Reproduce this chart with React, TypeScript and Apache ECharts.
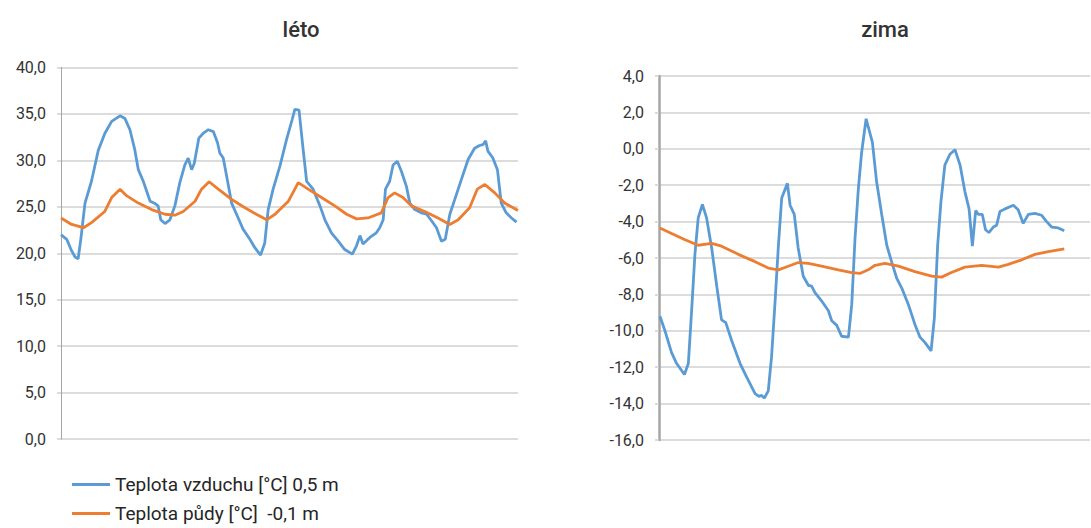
import React, { useEffect, useRef } from "react";
import * as echarts from "echarts";

// léto (summer) – hours and temperatures
const summerAirHours = [0, 1.5, 2.8, 3.7, 4.5, 5.2, 6.3, 8.0, 9.8, 11.5, 13.3, 15.5, 16.8, 18.1, 19.4, 20.3, 21.6, 23.4, 24.7, 25.5, 26.2, 27.3, 28.6, 29.9, 31.2, 32.5, 33.4, 34.3, 35.0, 36.2, 37.3, 38.7, 40.0, 41.1, 41.7, 42.6, 43.5, 44.8, 46.1, 47.8, 49.6, 50.9, 52.4, 53.5, 54.4, 55.7, 57.5, 59.2, 60.7, 61.4, 62.5, 63.6, 64.5, 66.2, 68.0, 69.3, 71.0, 72.8, 74.5, 76.5, 77.6, 78.5, 79.3, 81.1, 82.8, 83.7, 84.6, 85.2, 86.3, 87.2, 88.3, 89.4, 90.7, 91.6, 92.9, 94.6, 96.0, 97.3, 98.6, 99.9, 100.9, 102.1, 103.4, 105.1, 106.9, 108.6, 109.9, 110.8, 111.5, 112.1, 113.4, 114.6, 115.6, 116.9, 118.3, 119.6];
const summerAir = [22.0, 21.5, 20.25, 19.6, 19.4, 21.5, 25.4, 27.75, 31.1, 32.9, 34.2, 34.8, 34.5, 33.3, 31.1, 29.0, 27.75, 25.6, 25.35, 25.1, 23.6, 23.2, 23.6, 25.1, 27.6, 29.5, 30.25, 29.0, 29.7, 32.4, 32.9, 33.3, 33.1, 31.9, 30.8, 30.25, 28.3, 25.4, 24.2, 22.6, 21.5, 20.6, 19.8, 21.1, 24.7, 26.9, 29.4, 32.2, 34.4, 35.5, 35.4, 31.1, 27.75, 26.9, 25.1, 23.6, 22.2, 21.3, 20.4, 19.9, 20.8, 21.9, 21.0, 21.7, 22.2, 22.75, 23.6, 26.9, 27.75, 29.5, 29.9, 28.8, 27.2, 25.4, 24.7, 24.35, 24.2, 23.5, 22.75, 21.3, 21.5, 24.2, 25.8, 27.9, 30.1, 31.3, 31.6, 31.7, 32.1, 31.0, 30.25, 29.0, 25.4, 24.35, 23.8, 23.35];
const summerSoilHours = [0, 2.8, 5.9, 8.0, 11.5, 13.3, 15.5, 17.2, 20.3, 23.8, 27.3, 29.9, 32.1, 35.2, 36.9, 38.9, 41.3, 44.8, 48.3, 51.3, 54.0, 56.2, 59.7, 62.3, 64.9, 68.4, 71.9, 75.0, 77.6, 80.6, 84.1, 85.9, 87.6, 89.8, 92.0, 95.5, 99.0, 102.1, 104.3, 107.3, 109.3, 111.3, 113.9, 116.5, 120];
const summerSoil = [23.8, 23.1, 22.75, 23.3, 24.5, 26.0, 26.9, 26.2, 25.4, 24.7, 24.2, 24.1, 24.5, 25.6, 26.9, 27.7, 26.9, 25.8, 24.9, 24.2, 23.6, 24.2, 25.6, 27.6, 26.9, 26.0, 25.1, 24.2, 23.7, 23.8, 24.35, 26.0, 26.5, 26.0, 25.1, 24.5, 23.8, 23.1, 23.6, 24.9, 26.9, 27.4, 26.5, 25.4, 24.6];

// zima (winter)
const winterAirHours = [0.3, 2.0, 4.2, 5.9, 8.5, 9.8, 10.9, 12.0, 13.1, 14.5, 15.9, 17.6, 19.3, 20.9, 22.3, 24.3, 27.1, 29.3, 32.1, 33.4, 34.3, 35.2, 36.5, 37.6, 38.8, 39.9, 41.0, 42.9, 43.8, 45.2, 46.5, 48.2, 49.9, 51.0, 52.1, 54.3, 56.6, 57.7, 59.4, 61.0, 63.3, 64.4, 65.5, 66.6, 67.7, 69.2, 71.3, 72.7, 74.4, 76.1, 77.7, 79.4, 81.1, 83.3, 85.5, 87.2, 88.9, 90.9, 92.0, 93.1, 94.2, 95.5, 97.2, 98.9, 100.6, 102.2, 103.6, 104.7, 105.8, 106.7, 108.0, 109.1, 110.2, 111.7, 112.8, 113.9, 115.6, 118.4, 120.0, 121.7, 123.4, 125.6, 127.8, 129.5, 131.2, 133.4, 135.4];
const winterAir = [-9.2, -10.0, -11.2, -11.8, -12.4, -11.8, -8.9, -5.8, -3.8, -3.05, -3.8, -5.45, -7.55, -9.4, -9.55, -10.55, -11.8, -12.55, -13.45, -13.6, -13.55, -13.7, -13.3, -11.45, -8.35, -5.3, -2.7, -1.9, -3.1, -3.6, -5.45, -7.0, -7.5, -7.55, -7.9, -8.35, -8.9, -9.45, -9.7, -10.3, -10.35, -8.55, -4.9, -2.2, -0.2, 1.65, 0.35, -1.8, -3.6, -5.3, -6.2, -7.1, -7.65, -8.55, -9.65, -10.35, -10.65, -11.1, -9.3, -5.3, -2.9, -0.9, -0.3, -0.05, -0.9, -2.35, -3.3, -5.35, -3.4, -3.6, -3.6, -4.45, -4.6, -4.3, -4.2, -3.45, -3.3, -3.1, -3.35, -4.1, -3.6, -3.55, -3.65, -4.0, -4.3, -4.35, -4.5];
const winterSoilHours = [0.3, 4.2, 8.7, 13.1, 17.6, 20.9, 26.5, 32.1, 36.5, 39.9, 43.2, 46.5, 49.9, 54.3, 59.9, 64.4, 67.1, 69.9, 72.2, 75.5, 80.0, 85.5, 91.1, 94.4, 97.7, 102.2, 107.8, 113.4, 116.7, 121.2, 125.6, 130.1, 135.4];
const winterSoil = [-4.35, -4.65, -5.0, -5.3, -5.2, -5.35, -5.8, -6.2, -6.55, -6.65, -6.45, -6.25, -6.3, -6.45, -6.65, -6.8, -6.85, -6.65, -6.4, -6.3, -6.45, -6.75, -7.0, -7.05, -6.8, -6.5, -6.4, -6.5, -6.35, -6.1, -5.8, -5.65, -5.5];

const titles = ["léto", "zima"];
const seriesNames = ["Teplota vzduchu [°C] 0,5 m", "Teplota půdy [°C]  -0,1 m"];
const summerTicks = { min: 0, max: 40, interval: 5 };
const winterTicks = { min: -16, max: 4, interval: 2 };

const zip = (xs: number[], ys: number[]) => xs.map((x, i) => [x, ys[i]]);

const BLUE = "#5b9bd5";
const ORANGE = "#ed7d31";
const FONT = "Roboto, 'Noto Sans', sans-serif";

export default function App() {
  const ref = useRef<HTMLDivElement>(null);
  useEffect(() => {
    if (!ref.current) return;
    const chart = echarts.init(ref.current, undefined, { renderer: "svg" });
    const fmt = (v: number) => v.toFixed(1).replace(".", ",");
    const yCommon = (t: { min: number; max: number; interval: number }, axisW: number) => ({
      type: "value",
      min: t.min,
      max: t.max,
      interval: t.interval,
      axisLine: { show: true, lineStyle: { color: "#a6a6a6", width: axisW } },
      axisTick: { show: true, length: 4, lineStyle: { color: "#d0d0d0", width: 1.5 } },
      splitLine: { show: true, lineStyle: { color: "#d0d0d0", width: 1.5 } },
      axisLabel: { formatter: fmt, color: "#333333", fontSize: 16, fontFamily: FONT, margin: 15 },
    });
    const lineSeries = (name: string, color: string, data: number[][], idx: number) => ({
      name,
      type: "line",
      xAxisIndex: idx,
      yAxisIndex: idx,
      data,
      showSymbol: false,
      symbol: "none",
      smooth: false,
      lineStyle: { color, width: 2.8 },
      itemStyle: { color },
    });
    const legendBase = {
      orient: "vertical",
      left: 72,
      icon: "rect",
      itemWidth: 38,
      itemHeight: 3,
      itemGap: 10,
      padding: 0,
      textStyle: { fontSize: 19, color: "#262626", fontFamily: FONT },
    };
    chart.setOption({
      animation: false,
      backgroundColor: "#ffffff",
      textStyle: { fontFamily: FONT },
      title: [
        { text: titles[0], left: 296, top: 13, textAlign: "center", textStyle: { fontSize: 22, fontWeight: 500, color: "#333333", fontFamily: FONT } },
        { text: titles[1], left: 880, top: 13, textAlign: "center", textStyle: { fontSize: 22, fontWeight: 500, color: "#333333", fontFamily: FONT } },
      ],
      legend: [
        { ...legendBase, top: 475, data: [seriesNames[0]] },
        { ...legendBase, top: 504, data: [seriesNames[1]] },
      ],
      grid: [
        { left: 61, right: 573, top: 67.5, bottom: 89 },
        { left: 659, right: 1, top: 76, bottom: 88 },
      ],
      xAxis: [
        { type: "value", gridIndex: 0, min: 0, max: 120, show: false },
        { type: "value", gridIndex: 1, min: 0, max: 144, show: false },
      ],
      yAxis: [
        { ...yCommon(summerTicks, 1), gridIndex: 0 },
        { ...yCommon(winterTicks, 2.5), gridIndex: 1 },
      ],
      series: [
        lineSeries(seriesNames[0], BLUE, zip(summerAirHours, summerAir), 0),
        lineSeries(seriesNames[1], ORANGE, zip(summerSoilHours, summerSoil), 0),
        lineSeries(seriesNames[0], BLUE, zip(winterAirHours, winterAir), 1),
        lineSeries(seriesNames[1], ORANGE, zip(winterSoilHours, winterSoil), 1),
      ],
    });
    return () => chart.dispose();
  }, []);
  return <div ref={ref} style={{ position: "fixed", left: 0, top: 0, width: 1091, height: 528 }} />;
}
